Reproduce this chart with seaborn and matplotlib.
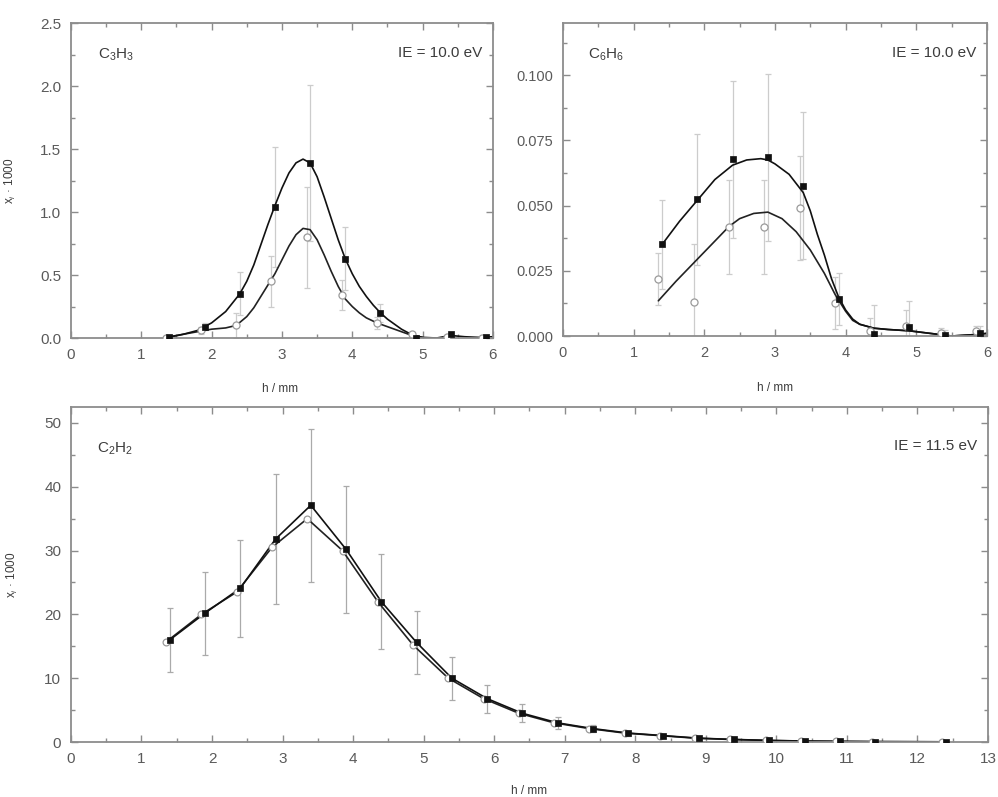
import matplotlib
matplotlib.use("Agg")
import matplotlib.pyplot as plt
from matplotlib.ticker import AutoMinorLocator, MultipleLocator, FormatStrFormatter
import seaborn as sns

# ---------------- measured mole fractions (x_i * 1000) vs height h / mm ----------------
h_fill = [1.4, 1.9, 2.4, 2.9, 3.4, 3.9, 4.4, 4.9, 5.4, 5.9]
h_open = [1.35, 1.85, 2.35, 2.85, 3.35, 3.85, 4.35, 4.85, 5.35, 5.85]

# C3H3, IE = 10.0 eV
c3h3_fill = [0.01, 0.09, 0.35, 1.04, 1.39, 0.63, 0.20, 0.00, 0.03, 0.01]
c3h3_fill_err = [0.01, 0.03, 0.17, 0.48, 0.62, 0.25, 0.07, 0.01, 0.01, 0.01]
c3h3_open = [0.00, 0.06, 0.10, 0.45, 0.80, 0.34, 0.12, 0.03, 0.01, 0.00]
c3h3_open_err = [0.01, 0.03, 0.10, 0.20, 0.40, 0.12, 0.05, 0.02, 0.01, 0.01]

# C3H3 model curves
c3h3_fit_fill_h = [1.4, 1.6, 1.8, 2.0, 2.2, 2.4, 2.5, 2.6, 2.7, 2.8, 2.9, 3.0, 3.1,
                   3.2, 3.3, 3.4, 3.5, 3.6, 3.7, 3.8, 3.9, 4.0, 4.1, 4.2, 4.3, 4.4,
                   4.5, 4.6, 4.7, 4.8, 4.9, 5.0, 5.2, 5.4, 5.6, 5.8, 6.0]
c3h3_fit_fill = [0.01, 0.03, 0.06, 0.12, 0.21, 0.35, 0.45, 0.58, 0.74, 0.90, 1.05,
                 1.19, 1.31, 1.39, 1.42, 1.39, 1.28, 1.12, 0.95, 0.78, 0.63, 0.51,
                 0.41, 0.33, 0.26, 0.20, 0.15, 0.11, 0.07, 0.04, 0.015, 0.005, 0.0,
                 0.02, 0.01, 0.005, 0.01]
c3h3_fit_open_h = [1.35, 1.6, 1.8, 2.0, 2.2, 2.35, 2.5, 2.6, 2.7, 2.8, 2.9, 3.0, 3.1,
                   3.2, 3.3, 3.4, 3.5, 3.6, 3.7, 3.8, 3.9, 4.0, 4.1, 4.2, 4.35, 4.5,
                   4.6, 4.8, 5.0]
c3h3_fit_open = [0.0, 0.03, 0.05, 0.07, 0.08, 0.10, 0.17, 0.24, 0.33, 0.42, 0.51,
                 0.62, 0.73, 0.82, 0.87, 0.86, 0.78, 0.66, 0.53, 0.41, 0.31, 0.25,
                 0.20, 0.16, 0.12, 0.09, 0.07, 0.03, 0.005]

# C6H6, IE = 10.0 eV
c6h6_fill = [0.0351, 0.0524, 0.0677, 0.0685, 0.0577, 0.0141, 0.0008, 0.0036, 0.0002, 0.0010]
c6h6_fill_err = [0.017, 0.025, 0.030, 0.032, 0.028, 0.010, 0.011, 0.010, 0.002, 0.003]
c6h6_open = [0.0218, 0.0131, 0.0419, 0.0419, 0.0490, 0.0125, 0.0020, 0.0040, 0.0010, 0.0020]
c6h6_open_err = [0.010, 0.022, 0.018, 0.018, 0.020, 0.010, 0.005, 0.006, 0.002, 0.002]

# C6H6 model curves
c6h6_fit_fill_h = [1.4, 1.65, 1.9, 2.15, 2.4, 2.6, 2.8, 2.9, 3.0, 3.2, 3.4, 3.5, 3.6,
                   3.7, 3.8, 3.9, 4.0, 4.1, 4.2, 4.4, 4.6, 4.9, 5.2, 5.5, 5.8, 6.0]
c6h6_fit_fill = [0.035, 0.044, 0.052, 0.060, 0.0655, 0.0675, 0.068, 0.0675, 0.066,
                 0.062, 0.055, 0.048, 0.039, 0.031, 0.022, 0.015, 0.010, 0.0065,
                 0.0045, 0.003, 0.0025, 0.002, 0.001, 0.0, 0.0005, 0.001]
c6h6_fit_open_h = [1.35, 1.6, 1.85, 2.1, 2.35, 2.5, 2.7, 2.9, 3.1, 3.3, 3.5, 3.7, 3.85,
                   4.0, 4.1, 4.2, 4.4, 4.6, 4.9, 5.2, 5.5, 5.8, 6.0]
c6h6_fit_open = [0.0135, 0.021, 0.028, 0.035, 0.042, 0.045, 0.047, 0.0475, 0.045,
                 0.040, 0.033, 0.024, 0.016, 0.0095, 0.006, 0.0045, 0.003, 0.0025,
                 0.002, 0.001, 0.0, 0.0005, 0.001]

# C2H2, IE = 11.5 eV
h2_fill = [1.4, 1.9, 2.4, 2.9, 3.4, 3.9, 4.4, 4.9, 5.4, 5.9, 6.4, 6.9, 7.4, 7.9,
           8.4, 8.9, 9.4, 9.9, 10.4, 10.9, 11.4, 12.4]
h2_open = [1.35, 1.85, 2.35, 2.85, 3.35, 3.85, 4.35, 4.85, 5.35, 5.85, 6.35, 6.85,
           7.35, 7.85, 8.35, 8.85, 9.35, 9.85, 10.35, 10.85, 11.35, 12.35]
c2h2_fill = [16.0, 20.2, 24.1, 31.8, 37.1, 30.2, 22.0, 15.6, 10.0, 6.8, 4.5, 3.0,
             2.1, 1.4, 1.0, 0.6, 0.4, 0.25, 0.15, 0.1, 0.06, 0.03]
c2h2_fill_err = [5.0, 6.5, 7.6, 10.2, 12.0, 10.0, 7.5, 5.0, 3.4, 2.2, 1.4, 0.9,
                 0.6, 0.4, 0.3, 0.2, 0.1, 0.1, 0.05, 0.05, 0.03, 0.02]
c2h2_open = [15.7, 20.0, 23.5, 30.5, 35.0, 30.0, 22.0, 15.2, 10.0, 6.8, 4.5, 3.0,
             2.1, 1.4, 1.0, 0.6, 0.4, 0.25, 0.15, 0.1, 0.06, 0.03]

# ---------------- styling ----------------
sns.set_theme(style="ticks")
plt.rcParams["font.family"] = ["Liberation Sans", "DejaVu Sans"]
plt.rcParams["mathtext.fontset"] = "custom"
plt.rcParams["mathtext.rm"] = "Liberation Sans"
plt.rcParams["mathtext.it"] = "Liberation Sans:italic"

SPINE = "#8c8c8c"
TICKLBL = "#5a5a5a"
TEXT = "#3c3c3c"
ERR = "#cccccc"

fig = plt.figure(figsize=(9.98, 7.97), dpi=100)
ax1 = fig.add_axes([0.0711, 0.5759, 0.4228, 0.3952])
ax2 = fig.add_axes([0.5641, 0.5784, 0.4248, 0.3927])
ax3 = fig.add_axes([0.0711, 0.0690, 0.9188, 0.4203])


def style_axes(ax, xmax, ymax, ymajor):
    ax.set_xlim(0, xmax)
    ax.set_ylim(0, ymax)
    ax.xaxis.set_major_locator(MultipleLocator(1))
    ax.yaxis.set_major_locator(MultipleLocator(ymajor))
    ax.xaxis.set_minor_locator(AutoMinorLocator(2))
    ax.yaxis.set_minor_locator(AutoMinorLocator(2))
    ax.tick_params(which="both", direction="in", top=True, right=True,
                   color=SPINE, width=1.0)
    ax.tick_params(which="major", length=5, labelsize=11, labelcolor=TICKLBL, pad=7)
    ax.tick_params(which="minor", length=3)
    for s in ax.spines.values():
        s.set_color(SPINE)
        s.set_linewidth(1.3)
    ax.set_facecolor("white")


def draw_errors(ax, h, y, err, color):
    ax.errorbar(h, y, yerr=err, fmt="none", ecolor=color, elinewidth=0.9,
                capsize=2.5, capthick=0.9, zorder=1)


def draw_series(ax, hf, yf, ho, yo, fh_f, fy_f, fh_o, fy_o, msize):
    sns.lineplot(x=fh_o, y=fy_o, ax=ax, color="#222222", lw=1.2, sort=False,
                 estimator=None, zorder=2)
    sns.lineplot(x=fh_f, y=fy_f, ax=ax, color="#111111", lw=1.2, sort=False,
                 estimator=None, zorder=2)
    sns.scatterplot(x=ho, y=yo, ax=ax, marker="o", s=msize + 6, facecolor="white",
                    edgecolor="#9a9a9a", linewidth=0.9, zorder=3)
    sns.scatterplot(x=hf, y=yf, ax=ax, marker="s", s=msize, color="#111111",
                    edgecolor="#111111", linewidth=0.5, zorder=4)


# C3H3 panel
draw_errors(ax1, h_open, c3h3_open, c3h3_open_err, ERR)
draw_errors(ax1, h_fill, c3h3_fill, c3h3_fill_err, ERR)
draw_series(ax1, h_fill, c3h3_fill, h_open, c3h3_open,
            c3h3_fit_fill_h, c3h3_fit_fill, c3h3_fit_open_h, c3h3_fit_open, 20)
style_axes(ax1, 6, 2.5, 0.5)
ax1.yaxis.set_major_formatter(FormatStrFormatter("%.1f"))
ax1.text(0.065, 0.90, r"C$_3$H$_3$", transform=ax1.transAxes, fontsize=11,
         color=TEXT, ha="left", va="center")
ax1.text(0.975, 0.905, "IE = 10.0 eV", transform=ax1.transAxes, fontsize=11,
         color=TEXT, ha="right", va="center")
ax1.set_xlabel("h / mm", fontsize=8.5, color=TEXT)
ax1.xaxis.set_label_coords(0.495, -0.143)
ax1.set_ylabel(r"x$_i$ · 1000", fontsize=8.5, color=TEXT)
ax1.yaxis.set_label_coords(-0.126, 0.5)

# C6H6 panel
draw_errors(ax2, h_open, c6h6_open, c6h6_open_err, ERR)
draw_errors(ax2, h_fill, c6h6_fill, c6h6_fill_err, ERR)
draw_series(ax2, h_fill, c6h6_fill, h_open, c6h6_open,
            c6h6_fit_fill_h, c6h6_fit_fill, c6h6_fit_open_h, c6h6_fit_open, 20)
style_axes(ax2, 6, 0.12, 0.025)
ax2.yaxis.set_major_formatter(FormatStrFormatter("%.3f"))
ax2.tick_params(which="major", labelsize=10.5)
ax2.text(0.06, 0.90, r"C$_6$H$_6$", transform=ax2.transAxes, fontsize=11,
         color=TEXT, ha="left", va="center")
ax2.text(0.975, 0.905, "IE = 10.0 eV", transform=ax2.transAxes, fontsize=11,
         color=TEXT, ha="right", va="center")
ax2.set_xlabel("h / mm", fontsize=8.5, color=TEXT)
ax2.xaxis.set_label_coords(0.50, -0.147)
ax2.set_ylabel("")

# C2H2 panel
draw_errors(ax3, h2_fill, c2h2_fill, c2h2_fill_err, "#aaaaaa")
draw_series(ax3, h2_fill, c2h2_fill, h2_open, c2h2_open,
            h2_fill, c2h2_fill, h2_open, c2h2_open, 18)
style_axes(ax3, 13, 52.5, 10)
ax3.text(0.028, 0.875, r"C$_2$H$_2$", transform=ax3.transAxes, fontsize=11,
         color=TEXT, ha="left", va="center")
ax3.text(0.988, 0.885, "IE = 11.5 eV", transform=ax3.transAxes, fontsize=11,
         color=TEXT, ha="right", va="center")
ax3.set_xlabel("h / mm", fontsize=8.5, color=TEXT)
ax3.xaxis.set_label_coords(0.50, -0.128)
ax3.set_ylabel(r"x$_i$ · 1000", fontsize=8.5, color=TEXT)
ax3.yaxis.set_label_coords(-0.0556, 0.5)

fig.savefig("out.png", dpi=100, facecolor="white")
